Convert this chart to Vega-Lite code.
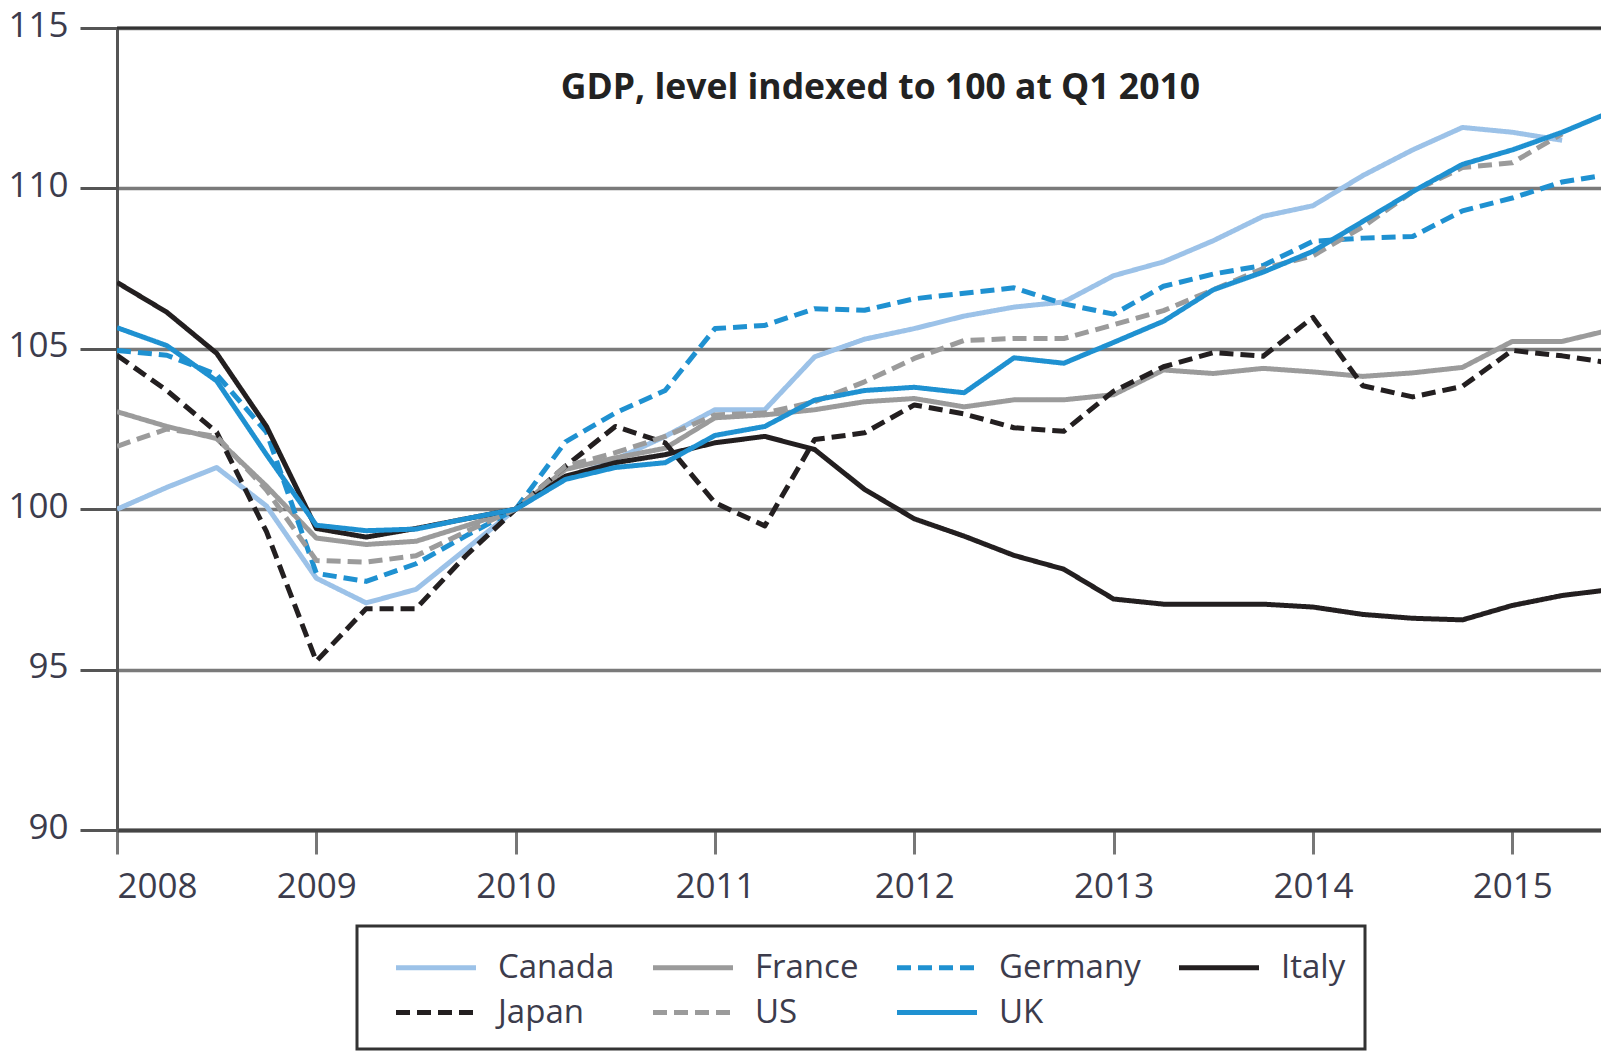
{
  "$schema": "https://vega.github.io/schema/vega-lite/v6.json",
  "autosize": {"type": "none"},
  "padding": {"left": 117, "top": 28, "right": 0, "bottom": 223},
  "width": 1484,
  "height": 802,
  "background": "white",
  "config": {
    "view": {"stroke": null},
    "font": "Open Sans",
    "legend": {"strokeWidth": 3}
  },
  "datasets": {
    "gdp": [
      {"country":"Canada","t":2008.0,"v":100.0},{"country":"Canada","t":2008.25,"v":100.68},{"country":"Canada","t":2008.5,"v":101.3},{"country":"Canada","t":2008.75,"v":100.1},
      {"country":"Canada","t":2009.0,"v":97.85},{"country":"Canada","t":2009.25,"v":97.08},{"country":"Canada","t":2009.5,"v":97.5},{"country":"Canada","t":2009.75,"v":98.75},
      {"country":"Canada","t":2010.0,"v":100.0},{"country":"Canada","t":2010.25,"v":100.93},{"country":"Canada","t":2010.5,"v":101.55},{"country":"Canada","t":2010.75,"v":102.27},
      {"country":"Canada","t":2011.0,"v":103.1},{"country":"Canada","t":2011.25,"v":103.1},{"country":"Canada","t":2011.5,"v":104.75},{"country":"Canada","t":2011.75,"v":105.3},
      {"country":"Canada","t":2012.0,"v":105.63},{"country":"Canada","t":2012.25,"v":106.02},{"country":"Canada","t":2012.5,"v":106.3},{"country":"Canada","t":2012.75,"v":106.46},
      {"country":"Canada","t":2013.0,"v":107.28},{"country":"Canada","t":2013.25,"v":107.71},{"country":"Canada","t":2013.5,"v":108.37},{"country":"Canada","t":2013.75,"v":109.13},
      {"country":"Canada","t":2014.0,"v":109.46},{"country":"Canada","t":2014.25,"v":110.4},{"country":"Canada","t":2014.5,"v":111.2},{"country":"Canada","t":2014.75,"v":111.9},
      {"country":"Canada","t":2015.0,"v":111.75},{"country":"Canada","t":2015.25,"v":111.5},

      {"country":"France","t":2008.0,"v":103.04},{"country":"France","t":2008.25,"v":102.58},{"country":"France","t":2008.5,"v":102.2},{"country":"France","t":2008.75,"v":100.72},
      {"country":"France","t":2009.0,"v":99.1},{"country":"France","t":2009.25,"v":98.9},{"country":"France","t":2009.5,"v":99.0},{"country":"France","t":2009.75,"v":99.48},
      {"country":"France","t":2010.0,"v":100.0},{"country":"France","t":2010.25,"v":101.24},{"country":"France","t":2010.5,"v":101.6},{"country":"France","t":2010.75,"v":101.9},
      {"country":"France","t":2011.0,"v":102.85},{"country":"France","t":2011.25,"v":102.94},{"country":"France","t":2011.5,"v":103.1},{"country":"France","t":2011.75,"v":103.35},
      {"country":"France","t":2012.0,"v":103.45},{"country":"France","t":2012.25,"v":103.19},{"country":"France","t":2012.5,"v":103.41},{"country":"France","t":2012.75,"v":103.41},
      {"country":"France","t":2013.0,"v":103.57},{"country":"France","t":2013.25,"v":104.34},{"country":"France","t":2013.5,"v":104.23},{"country":"France","t":2013.75,"v":104.39},
      {"country":"France","t":2014.0,"v":104.28},{"country":"France","t":2014.25,"v":104.14},{"country":"France","t":2014.5,"v":104.25},{"country":"France","t":2014.75,"v":104.42},
      {"country":"France","t":2015.0,"v":105.23},{"country":"France","t":2015.25,"v":105.23},{"country":"France","t":2015.5,"v":105.6},

      {"country":"Germany","t":2008.0,"v":104.95},{"country":"Germany","t":2008.25,"v":104.8},{"country":"Germany","t":2008.5,"v":104.2},{"country":"Germany","t":2008.75,"v":102.4},
      {"country":"Germany","t":2009.0,"v":98.0},{"country":"Germany","t":2009.25,"v":97.75},{"country":"Germany","t":2009.5,"v":98.3},{"country":"Germany","t":2009.75,"v":99.17},
      {"country":"Germany","t":2010.0,"v":100.0},{"country":"Germany","t":2010.25,"v":102.1},{"country":"Germany","t":2010.5,"v":103.0},{"country":"Germany","t":2010.75,"v":103.7},
      {"country":"Germany","t":2011.0,"v":105.63},{"country":"Germany","t":2011.25,"v":105.73},{"country":"Germany","t":2011.5,"v":106.25},{"country":"Germany","t":2011.75,"v":106.2},
      {"country":"Germany","t":2012.0,"v":106.56},{"country":"Germany","t":2012.25,"v":106.73},{"country":"Germany","t":2012.5,"v":106.9},{"country":"Germany","t":2012.75,"v":106.4},
      {"country":"Germany","t":2013.0,"v":106.08},{"country":"Germany","t":2013.25,"v":106.95},{"country":"Germany","t":2013.5,"v":107.33},{"country":"Germany","t":2013.75,"v":107.6},
      {"country":"Germany","t":2014.0,"v":108.35},{"country":"Germany","t":2014.25,"v":108.45},{"country":"Germany","t":2014.5,"v":108.5},{"country":"Germany","t":2014.75,"v":109.3},
      {"country":"Germany","t":2015.0,"v":109.7},{"country":"Germany","t":2015.25,"v":110.2},{"country":"Germany","t":2015.5,"v":110.45},

      {"country":"Italy","t":2008.0,"v":107.07},{"country":"Italy","t":2008.25,"v":106.14},{"country":"Italy","t":2008.5,"v":104.86},{"country":"Italy","t":2008.75,"v":102.58},
      {"country":"Italy","t":2009.0,"v":99.4},{"country":"Italy","t":2009.25,"v":99.13},{"country":"Italy","t":2009.5,"v":99.4},{"country":"Italy","t":2009.75,"v":99.7},
      {"country":"Italy","t":2010.0,"v":100.0},{"country":"Italy","t":2010.25,"v":101.03},{"country":"Italy","t":2010.5,"v":101.45},{"country":"Italy","t":2010.75,"v":101.7},
      {"country":"Italy","t":2011.0,"v":102.07},{"country":"Italy","t":2011.25,"v":102.27},{"country":"Italy","t":2011.5,"v":101.86},{"country":"Italy","t":2011.75,"v":100.62},
      {"country":"Italy","t":2012.0,"v":99.7},{"country":"Italy","t":2012.25,"v":99.16},{"country":"Italy","t":2012.5,"v":98.56},{"country":"Italy","t":2012.75,"v":98.13},
      {"country":"Italy","t":2013.0,"v":97.2},{"country":"Italy","t":2013.25,"v":97.04},{"country":"Italy","t":2013.5,"v":97.04},{"country":"Italy","t":2013.75,"v":97.04},
      {"country":"Italy","t":2014.0,"v":96.95},{"country":"Italy","t":2014.25,"v":96.72},{"country":"Italy","t":2014.5,"v":96.6},{"country":"Italy","t":2014.75,"v":96.55},
      {"country":"Italy","t":2015.0,"v":97.0},{"country":"Italy","t":2015.25,"v":97.31},{"country":"Italy","t":2015.5,"v":97.5},

      {"country":"Japan","t":2008.0,"v":104.8},{"country":"Japan","t":2008.25,"v":103.7},{"country":"Japan","t":2008.5,"v":102.4},{"country":"Japan","t":2008.75,"v":99.3},
      {"country":"Japan","t":2009.0,"v":95.26},{"country":"Japan","t":2009.25,"v":96.9},{"country":"Japan","t":2009.5,"v":96.9},{"country":"Japan","t":2009.75,"v":98.55},
      {"country":"Japan","t":2010.0,"v":100.0},{"country":"Japan","t":2010.25,"v":101.34},{"country":"Japan","t":2010.5,"v":102.58},{"country":"Japan","t":2010.75,"v":102.07},
      {"country":"Japan","t":2011.0,"v":100.2},{"country":"Japan","t":2011.25,"v":99.48},{"country":"Japan","t":2011.5,"v":102.17},{"country":"Japan","t":2011.75,"v":102.38},
      {"country":"Japan","t":2012.0,"v":103.25},{"country":"Japan","t":2012.25,"v":102.97},{"country":"Japan","t":2012.5,"v":102.54},{"country":"Japan","t":2012.75,"v":102.43},
      {"country":"Japan","t":2013.0,"v":103.68},{"country":"Japan","t":2013.25,"v":104.44},{"country":"Japan","t":2013.5,"v":104.88},{"country":"Japan","t":2013.75,"v":104.77},
      {"country":"Japan","t":2014.0,"v":105.98},{"country":"Japan","t":2014.25,"v":103.85},{"country":"Japan","t":2014.5,"v":103.5},{"country":"Japan","t":2014.75,"v":103.83},
      {"country":"Japan","t":2015.0,"v":104.95},{"country":"Japan","t":2015.25,"v":104.78},{"country":"Japan","t":2015.5,"v":104.55},

      {"country":"US","t":2008.0,"v":101.96},{"country":"US","t":2008.25,"v":102.5},{"country":"US","t":2008.5,"v":102.27},{"country":"US","t":2008.75,"v":100.6},
      {"country":"US","t":2009.0,"v":98.4},{"country":"US","t":2009.25,"v":98.35},{"country":"US","t":2009.5,"v":98.55},{"country":"US","t":2009.75,"v":99.3},
      {"country":"US","t":2010.0,"v":100.0},{"country":"US","t":2010.25,"v":101.34},{"country":"US","t":2010.5,"v":101.76},{"country":"US","t":2010.75,"v":102.27},
      {"country":"US","t":2011.0,"v":102.94},{"country":"US","t":2011.25,"v":103.0},{"country":"US","t":2011.5,"v":103.35},{"country":"US","t":2011.75,"v":103.97},
      {"country":"US","t":2012.0,"v":104.7},{"country":"US","t":2012.25,"v":105.26},{"country":"US","t":2012.5,"v":105.32},{"country":"US","t":2012.75,"v":105.32},
      {"country":"US","t":2013.0,"v":105.75},{"country":"US","t":2013.25,"v":106.19},{"country":"US","t":2013.5,"v":106.84},{"country":"US","t":2013.75,"v":107.5},
      {"country":"US","t":2014.0,"v":107.9},{"country":"US","t":2014.25,"v":108.8},{"country":"US","t":2014.5,"v":109.9},{"country":"US","t":2014.75,"v":110.65},
      {"country":"US","t":2015.0,"v":110.8},{"country":"US","t":2015.25,"v":111.7},

      {"country":"UK","t":2008.0,"v":105.66},{"country":"UK","t":2008.25,"v":105.1},{"country":"UK","t":2008.5,"v":104.0},{"country":"UK","t":2008.75,"v":101.7},
      {"country":"UK","t":2009.0,"v":99.5},{"country":"UK","t":2009.25,"v":99.33},{"country":"UK","t":2009.5,"v":99.38},{"country":"UK","t":2009.75,"v":99.7},
      {"country":"UK","t":2010.0,"v":100.0},{"country":"UK","t":2010.25,"v":100.93},{"country":"UK","t":2010.5,"v":101.3},{"country":"UK","t":2010.75,"v":101.45},
      {"country":"UK","t":2011.0,"v":102.3},{"country":"UK","t":2011.25,"v":102.58},{"country":"UK","t":2011.5,"v":103.4},{"country":"UK","t":2011.75,"v":103.7},
      {"country":"UK","t":2012.0,"v":103.8},{"country":"UK","t":2012.25,"v":103.63},{"country":"UK","t":2012.5,"v":104.72},{"country":"UK","t":2012.75,"v":104.55},
      {"country":"UK","t":2013.0,"v":105.2},{"country":"UK","t":2013.25,"v":105.86},{"country":"UK","t":2013.5,"v":106.84},{"country":"UK","t":2013.75,"v":107.39},
      {"country":"UK","t":2014.0,"v":108.04},{"country":"UK","t":2014.25,"v":108.97},{"country":"UK","t":2014.5,"v":109.9},{"country":"UK","t":2014.75,"v":110.75},
      {"country":"UK","t":2015.0,"v":111.2},{"country":"UK","t":2015.25,"v":111.75},{"country":"UK","t":2015.5,"v":112.4}
    ]
  },
  "layer": [
    {
      "data": {"name": "gdp"},
      "mark": {"type": "line", "strokeWidth": 5, "clip": true, "strokeJoin": "round"},
      "encoding": {
        "x": {
          "field": "t", "type": "quantitative",
          "scale": {"domain": [2008, 2015.445], "nice": false, "zero": false},
          "axis": {
            "values": [2008, 2009, 2010, 2011, 2012, 2013, 2014, 2015],
            "format": "d", "title": null, "grid": false,
            "domainColor": "#444", "domainWidth": 4,
            "tickColor": "#777", "tickWidth": 3, "tickSize": 24,
            "labelFont": "Open Sans", "labelFontSize": 35, "labelColor": "#3c3c4c",
            "labelPadding": 15
          }
        },
        "y": {
          "field": "v", "type": "quantitative",
          "scale": {"domain": [90, 115], "nice": false, "zero": false},
          "axis": {
            "values": [90, 95, 100, 105, 110, 115],
            "title": null, "grid": true,
            "gridColor": "#7a7a7a", "gridWidth": 3.5,
            "domainColor": "#555", "domainWidth": 3,
            "tickColor": "#555", "tickWidth": 3, "tickSize": 37,
            "labelFont": "Open Sans", "labelFontSize": 35, "labelColor": "#3c3c4c",
            "labelPadding": 12, "labelOffset": -3
          }
        },
        "color": {
          "field": "country", "type": "nominal",
          "scale": {
            "domain": ["Canada", "France", "Germany", "Italy", "Japan", "US", "UK"],
            "range": ["#9cc2e8", "#9b9b9b", "#1f91d1", "#231f20", "#231f20", "#9b9b9b", "#1f91d1"]
          },
          "legend": {
            "title": null,
            "orient": "none", "legendX": 240, "legendY": 898,
            "columns": 4, "direction": "horizontal",
            "symbolType": "M-2,0H2", "symbolSize": 1600, "symbolStrokeWidth": 5,
            "labelFont": "Open Sans", "labelFontSize": 33, "labelColor": "#3c3c4c",
            "labelOffset": 39.5, "symbolOffset": 37.5, "columnPadding": 18, "rowPadding": 5,
            "padding": 19,
            "strokeColor": "#333", "fillColor": "white",
            "gridAlign": "each", "labelLimit": 300
          }
        },
        "strokeDash": {
          "field": "country", "type": "nominal",
          "scale": {
            "domain": ["Canada", "France", "Germany", "Italy", "Japan", "US", "UK"],
            "range": [[1, 0], [1, 0], [14, 7], [1, 0], [14, 7], [14, 7], [1, 0]]
          },
          "legend": {
            "title": null,
            "orient": "none", "legendX": 240, "legendY": 898,
            "columns": 4, "direction": "horizontal",
            "symbolType": "M-2,0H2", "symbolSize": 1600, "symbolStrokeWidth": 5,
            "labelFont": "Open Sans", "labelFontSize": 33, "labelColor": "#3c3c4c",
            "labelOffset": 39.5, "symbolOffset": 37.5, "columnPadding": 18, "rowPadding": 5,
            "padding": 19,
            "strokeColor": "#333", "fillColor": "white",
            "gridAlign": "each", "labelLimit": 300
          }
        }
      }
    },
    {
      "data": {"values": [{}]},
      "mark": {"type": "rule", "color": "#333", "strokeWidth": 3},
      "encoding": {"y": {"datum": 115, "type": "quantitative"}}
    },
    {
      "data": {"values": [{}]},
      "mark": {"type": "text", "text": "GDP, level indexed to 100 at Q1 2010", "font": "Open Sans", "fontWeight": "bold", "fontSize": 35.5, "color": "#222", "align": "center", "baseline": "middle"},
      "encoding": {
        "x": {"datum": 2011.83, "type": "quantitative"},
        "y": {"datum": 113.14, "type": "quantitative"}
      }
    }
  ]
}
